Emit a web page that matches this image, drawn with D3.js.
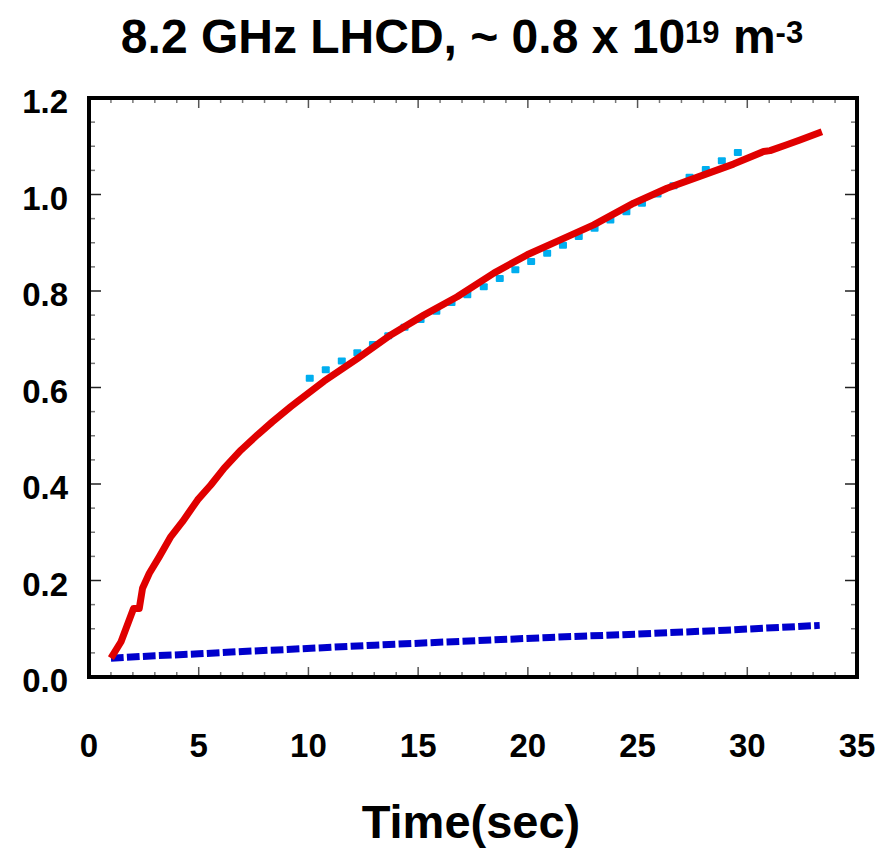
<!DOCTYPE html>
<html>
<head>
<meta charset="utf-8">
<script src="https://cdnjs.cloudflare.com/ajax/libs/d3/7.8.5/d3.min.js"></script>
<style>
  body { margin: 0; background: #fff; }
  svg text { font-family: "Liberation Sans", Arial, sans-serif; font-weight: bold; fill: #000; }
</style>
</head>
<body>
<div id="chart"></div>
<script>
// data
const redTime = [1.0, 1.46, 2.03, 2.29, 2.44, 2.75, 3.2, 3.73, 4.26, 4.95, 5.55, 6.16, 6.92, 7.68, 8.36, 9.19, 9.5, 10.71, 12.23, 13.75, 15.26, 16.78, 18.45, 19.97, 21.48, 23.0, 24.82, 26.34, 27.86, 29.37, 30.74, 31.04, 31.8, 32.4, 33.4];
const redValue = [0.039, 0.073, 0.142, 0.142, 0.184, 0.215, 0.249, 0.291, 0.322, 0.367, 0.398, 0.433, 0.470, 0.502, 0.529, 0.560, 0.571, 0.613, 0.660, 0.709, 0.750, 0.788, 0.837, 0.875, 0.906, 0.937, 0.982, 1.013, 1.038, 1.063, 1.089, 1.091, 1.103, 1.113, 1.130];

const cyanTime = [10.06, 10.79, 11.52, 12.23, 12.94, 13.64, 14.38, 15.11, 15.83, 16.52, 17.24, 17.99, 18.72, 19.43, 20.15, 20.88, 21.6, 22.32, 23.04, 23.76, 24.49, 25.2, 25.91, 26.64, 27.37, 28.11, 28.84, 29.57];
const cyanValue = [0.619, 0.637, 0.655, 0.672, 0.689, 0.707, 0.725, 0.741, 0.758, 0.776, 0.792, 0.809, 0.826, 0.844, 0.861, 0.878, 0.895, 0.913, 0.930, 0.947, 0.964, 0.982, 1.001, 1.018, 1.036, 1.052, 1.070, 1.087];

const blueTime = [1, 3, 5, 7, 9, 13, 17, 21, 25, 29, 33.3];
const blueValue = [0.039, 0.044, 0.048, 0.053, 0.057, 0.066, 0.074, 0.082, 0.089, 0.097, 0.107];

const xTicks = [0, 5, 10, 15, 20, 25, 30, 35];
const yTicks = [0, 0.2, 0.4, 0.6, 0.8, 1.0, 1.2];

const width = 881, height = 850;
const plot = {left: 89, right: 857, top: 98, bottom: 677};

const svg = d3.select("#chart").append("svg")
    .attr("width", width)
    .attr("height", height)
;

const xScale = d3.scaleLinear().domain([0, 35]).range([plot.left, plot.right]);
const yScale = d3.scaleLinear().domain([0, 1.2]).range([plot.bottom, plot.top]);

// ticks on all four sides, pointing inwards
const xMinor = d3.range(0, 35.01, 1);
const yMinor = d3.range(0, 1.201, 0.05);
const isMajorX = v => Math.abs(v / 5 - Math.round(v / 5)) < 1e-6;
const isMajorY = v => Math.abs(v / 0.2 - Math.round(v / 0.2)) < 1e-6;

const tickG = svg.append("g").attr("class", "ticks");
xMinor.forEach(v => {
    const len = isMajorX(v) ? 10 : 5;
    const col = isMajorX(v) ? "#555" : "#777";
    tickG.append("line")
        .attr("x1", xScale(v)).attr("x2", xScale(v))
        .attr("y1", plot.bottom).attr("y2", plot.bottom - len)
        .attr("stroke", col).attr("stroke-width", 1.5);
    tickG.append("line")
        .attr("x1", xScale(v)).attr("x2", xScale(v))
        .attr("y1", plot.top).attr("y2", plot.top + len)
        .attr("stroke", col).attr("stroke-width", 1.5);
});
yMinor.forEach(v => {
    const len = isMajorY(v) ? 12 : 6;
    const col = isMajorY(v) ? "#222" : "#777";
    tickG.append("line")
        .attr("x1", plot.left).attr("x2", plot.left + len)
        .attr("y1", yScale(v)).attr("y2", yScale(v))
        .attr("stroke", col).attr("stroke-width", 1.5);
    tickG.append("line")
        .attr("x1", plot.right).attr("x2", plot.right - len)
        .attr("y1", yScale(v)).attr("y2", yScale(v))
        .attr("stroke", col).attr("stroke-width", 1.5);
});

// tick labels
svg.append("g").selectAll("text")
    .data(yTicks)
    .join("text")
    .attr("x", 68)
    .attr("y", d => yScale(d) + 15)
    .attr("text-anchor", "end")
    .attr("font-size", 33)
    .text(d => d.toFixed(1))
;
svg.append("g").selectAll("text")
    .data(xTicks)
    .join("text")
    .attr("x", d => xScale(d))
    .attr("y", 757)
    .attr("text-anchor", "middle")
    .attr("font-size", 33)
    .text(d => d)
;

// series
const line = d3.line()
    .x(d => xScale(d[0]))
    .y(d => yScale(d[1]))
;

svg.append("path")
    .datum(blueTime.map((t, i) => [t, blueValue[i]]))
    .attr("d", line)
    .attr("fill", "none")
    .attr("stroke", "#0000cc")
    .attr("stroke-width", 7)
    .attr("stroke-dasharray", "12.7,3.3")
;

svg.append("g").selectAll("rect")
    .data(cyanTime.map((t, i) => [t, cyanValue[i]]))
    .join("rect")
    .attr("x", d => xScale(d[0]) - 4)
    .attr("y", d => yScale(d[1]) - 3.5)
    .attr("width", 8)
    .attr("height", 7)
    .attr("rx", 1)
    .attr("fill", "#00aeef")
;

svg.append("path")
    .datum(redTime.map((t, i) => [t, redValue[i]]))
    .attr("d", line)
    .attr("fill", "none")
    .attr("stroke", "#e00000")
    .attr("stroke-width", 7)
    .attr("stroke-linejoin", "round")
    .attr("stroke-linecap", "butt")
;

// frame
svg.append("rect")
    .attr("x", plot.left)
    .attr("y", plot.top)
    .attr("width", plot.right - plot.left)
    .attr("height", plot.bottom - plot.top)
    .attr("fill", "none")
    .attr("stroke", "#000")
    .attr("stroke-width", 4)
;

// titles
const title = svg.append("text")
    .attr("x", 462)
    .attr("y", 53)
    .attr("text-anchor", "middle")
    .attr("font-size", 48)
;
title.append("tspan").text("8.2 GHz LHCD, ~ 0.8 x 10");
title.append("tspan").attr("dy", -10).attr("font-size", 31).text("19");
title.append("tspan").attr("dy", 10).text(" m");
title.append("tspan").attr("dy", -10).attr("font-size", 31).text("-3");

svg.append("text")
    .attr("x", 471)
    .attr("y", 838)
    .attr("text-anchor", "middle")
    .attr("font-size", 47)
    .text("Time(sec)")
;
</script>
</body>
</html>
